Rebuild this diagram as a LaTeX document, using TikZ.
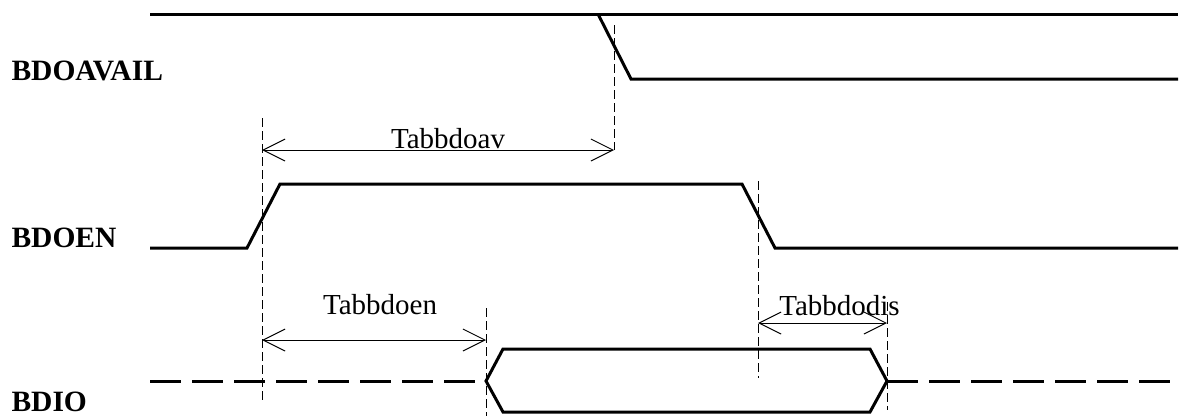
\documentclass[tikz,border=0pt]{standalone}
\usepackage{fontspec}
\setmainfont{Liberation Serif}
\usetikzlibrary{arrows.meta}

\begin{document}
\begin{tikzpicture}[x=1pt, y=-1pt, font=\fontsize{29}{32}\selectfont,
    sig/.style={line width=3pt},
    float/.style={line width=3pt, dash pattern=on 31pt off 11pt},
    guide/.style={line width=1pt, dash pattern=on 9pt off 4pt},
    span/.style={line width=1pt, {Straight Barb[length=22pt,width=22pt,line width=1pt]}-{Straight Barb[length=22pt,width=22pt,line width=1pt]}}]
    \useasboundingbox (0,0) rectangle (1202,416);
    % signal names
    \node[anchor=west, font=\fontsize{29.5}{32}\selectfont\bfseries] (avail) at (8,71) {BDOAVAIL};
    \node[anchor=west, font=\fontsize{29.5}{32}\selectfont\bfseries] (en) at (8,238) {BDOEN};
    \node[anchor=west, font=\fontsize{29.5}{32}\selectfont\bfseries] (io) at (8,402) {BDIO};
    % waveforms
    \draw [sig] (150,14) -- (1178,14);
    \draw [sig] (598,14) -- (631,79) -- (1178,79);
    \draw [sig] (150,248) -- (247,248) -- (280,184) -- (742,184) -- (775,248) -- (1178,248);
    \draw [float] (150,381) -- (486,381);
    \draw [sig] (486,381) -- (503,349) -- (870,349) -- (887,381) -- (870,412) -- (503,412) -- cycle;
    \draw [float] (887,381) -- (1178,381);
    % timing marks
    \coordinate (g1a) at (262,118); \coordinate (g1b) at (262,403);
    \coordinate (g2a) at (614,25);  \coordinate (g2b) at (614,150);
    \coordinate (g3a) at (486,308); \coordinate (g3b) at (486,416);
    \coordinate (g4a) at (758,181); \coordinate (g4b) at (758,378);
    \coordinate (g5a) at (887,302); \coordinate (g5b) at (887,410);
    \foreach \g in {g1,g2,g3,g4,g5}
      \draw [guide] (\g a) -- (\g b);
    \coordinate (av1) at (262,150); \coordinate (av2) at (614,150);
    \coordinate (oe1) at (262,340); \coordinate (oe2) at (486,340);
    \coordinate (od1) at (758,323); \coordinate (od2) at (887,323);
    \draw [span] (av1) -- node[above=-3pt, xshift=10pt] (tav) {Tabbdoav} (av2);
    \draw [span] (oe1) -- node[above=21pt, xshift=6pt] (toe) {Tabbdoen} (oe2);
    \draw [span] (od1) -- node[above=3pt, xshift=17pt] (tod) {Tabbdodis} (od2);
\end{tikzpicture}
\end{document}
